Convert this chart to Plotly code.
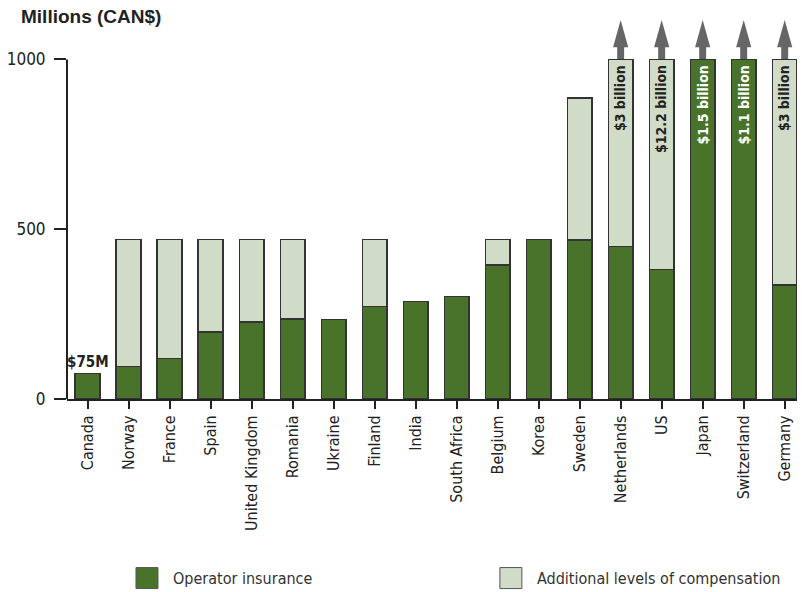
import plotly.graph_objects as go

countries = ["Canada", "Norway", "France", "Spain", "United Kingdom", "Romania", "Ukraine",
             "Finland", "India", "South Africa", "Belgium", "Korea", "Sweden", "Netherlands",
             "US", "Japan", "Switzerland", "Germany"]
# Operator insurance (millions CAN$), capped at 1000 on the chart
operator = [75, 95, 120, 198, 227, 236, 234, 273, 287, 302, 394, 470, 468, 449, 381, 1000, 1000, 336]
# Total with additional levels (millions CAN$), capped at 1000
total = [75, 470, 470, 470, 470, 470, 234, 470, 287, 302, 470, 470, 886, 1000, 1000, 1000, 1000, 1000]
additional = [t - o for t, o in zip(total, operator)]
# Bars that go beyond the top of the scale, with their real totals
overflow_labels = {"Netherlands": "$3 billion", "US": "$12.2 billion", "Japan": "$1.5 billion",
                   "Switzerland": "$1.1 billion", "Germany": "$3 billion"}
canada_label = "$75M"
y_ticks = [0, 500, 1000]
y_max_scale = 1000

GREEN = "#49732a"
LIGHT = "#d0dcc7"
EDGE = "#333333"
ARROW = "#666666"
COND = "Liberation Sans Narrow, DejaVu Sans Condensed, Arial Narrow, sans-serif"

x = list(range(len(countries)))

fig = go.Figure()
fig.add_trace(go.Bar(x=x, y=operator, name="Operator insurance", marker_color=GREEN,
                     marker_line_color=EDGE, marker_line_width=1.5, width=0.6,
                     showlegend=False))
fig.add_trace(go.Bar(x=x, y=additional, name="Additional levels of compensation",
                     marker_color=LIGHT, marker_line_color=EDGE, marker_line_width=1.5,
                     width=0.6, showlegend=False))

shapes = []
annotations = []
# arrows over the overflow bars
for i, c in enumerate(countries):
    if c in overflow_labels:
        shapes.append(dict(type="rect", xref="x", yref="y", x0=i - 0.085, x1=i + 0.085,
                           y0=y_max_scale, y1=1038, fillcolor=ARROW, line_width=0, layer="below"))
        shapes.append(dict(type="path", xref="x", yref="y",
                           path=f"M {i-0.185},1036 L {i+0.185},1036 L {i},1116 Z",
                           fillcolor=ARROW, line_width=0))
        green_bar = operator[i] >= y_max_scale
        annotations.append(dict(x=i, y=y_max_scale, xref="x", yref="y", text=f"<b>{overflow_labels[c]}</b>",
                                textangle=-90, showarrow=False, yanchor="top", xanchor="center",
                                yshift=-4,
                                font=dict(family=COND, size=14,
                                          color="white" if green_bar else "#222222")))

annotations.append(dict(x=0, y=operator[0], xref="x", yref="y", text=f"<b>{canada_label}</b>",
                        showarrow=False, yanchor="bottom", yshift=1,
                        font=dict(family=COND, size=15, color="#222222")))

# y axis line only up to 1000
shapes.append(dict(type="line", xref="paper", yref="y", x0=0, x1=0, y0=0, y1=y_max_scale,
                   line=dict(color="#222222", width=2)))

# manual legend
L, W, T, H = 67, 730.2, 20, 379.3
def px(p):
    return (p - L) / W
def py(p):
    return (T + H - p) / H
legend_items = [("Operator insurance", GREEN, 136), ("Additional levels of compensation", LIGHT, 500)]
for name, col, left in legend_items:
    shapes.append(dict(type="rect", xref="paper", yref="paper", x0=px(left), x1=px(left + 22),
                       y0=py(589), y1=py(568), fillcolor=col, line=dict(color="#555555", width=1)))
    annotations.append(dict(x=px(left + 35), y=py(579), xref="paper", yref="paper", text=name,
                            showarrow=False, xanchor="left", yanchor="middle",
                            font=dict(family=COND, size=16, color="#333333")))

fig.update_layout(
    width=802, height=592,
    margin=dict(l=67, r=5, t=20, b=192.7),
    paper_bgcolor="white", plot_bgcolor="white",
    barmode="stack", bargap=0.4,
    title=dict(text="<b>Millions (CAN$)</b>", x=21 / 802, xanchor="left", xref="container",
               y=1 - 16 / 592, yanchor="middle", yref="container",
               font=dict(family="Liberation Sans, Arial, sans-serif", size=19, color="#222222")),
    shapes=shapes, annotations=annotations,
    xaxis=dict(range=[-0.5, 17.3], tickvals=x, ticktext=countries, tickangle=-90,
               showline=True, linecolor="#222222", linewidth=2, ticks="outside", ticklen=8,
               tickwidth=2, tickcolor="#222222", showgrid=False, zeroline=False,
               tickfont=dict(family=COND, size=16, color="#222222")),
    yaxis=dict(range=[0, 1116], tickvals=y_ticks, showline=False, ticks="outside", ticklen=12,
               tickwidth=2, tickcolor="#222222", showgrid=False, zeroline=False,
               ticklabelstandoff=5,
               tickfont=dict(family=COND, size=17, color="#222222")),
)

fig.write_html("out.html")
